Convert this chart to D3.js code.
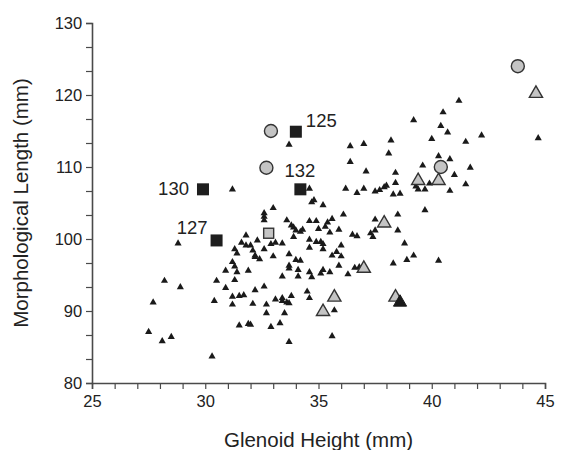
<!DOCTYPE html>
<html>
<head>
<meta charset="utf-8">
<script src="https://cdn.jsdelivr.net/npm/d3@7"></script>
<style>
  body { margin: 0; background: #fff; }
  text { font-family: "Liberation Sans", Arial, sans-serif; fill: #222; }
</style>
</head>
<body>
<div id="chart"></div>
<script>
// small black triangles: [glenoid height, morphological length]
var smallTri = [
  [33.7,113.1],[31.2,106.9],[34.6,107.0],[34.7,105.1],[34.8,105.4],[35.2,104.7],
  [41.2,119.2],[40.5,117.6],[39.2,116.5],[40.4,115.7],[40.7,114.8],[42.2,114.4],
  [44.7,114.0],[40.0,113.9],[41.5,113.5],[36.4,112.9],[37.0,113.2],[38.2,113.7],
  [38.1,111.9],[36.4,110.7],[39.6,110.2],[40.3,111.5],[40.8,111.1],[41.7,109.9],
  [37.1,109.4],[38.4,109.2],[41.0,108.9],[38.4,107.8],[39.9,107.7],[41.5,107.6],
  [36.2,107.0],[36.7,106.4],[37.0,107.0],[37.5,106.6],[37.7,106.8],[37.9,107.2],
  [38.0,107.4],[38.3,106.2],[38.6,106.3],[39.3,107.3],[39.4,106.9],[39.7,106.9],
  [40.8,106.7],[36.1,103.4],[39.7,104.0],[38.5,103.4],[37.5,102.7],[34.6,102.5],
  [34.9,102.5],[35.4,102.3],[35.3,101.7],[35.6,102.8],[35.0,101.4],[35.5,100.9],
  [35.9,101.3],[36.5,100.6],[36.7,100.4],[37.3,100.8],[37.4,100.3],[37.5,101.2],
  [38.5,101.2],[34.6,99.9],[34.9,99.6],[35.1,99.6],[35.2,99.3],[36.0,99.1],
  [34.6,98.8],[35.2,98.6],[35.8,98.2],[35.6,97.7],[36.0,97.6],[38.8,99.4],
  [39.2,97.7],[38.9,97.1],[40.3,97.0],[38.3,96.6],[35.9,96.3],[36.6,96.0],
  [36.8,96.1],[36.3,95.1],[34.6,95.4],[34.7,94.7],[35.1,95.2],[35.2,95.7],
  [35.5,95.4],[34.5,92.7],[34.6,91.8],[35.7,90.1],[35.6,86.5],[33.0,104.3],
  [32.6,103.6],[32.6,103.1],[32.6,102.6],[33.6,102.6],[33.8,101.9],[33.9,101.6],
  [34.0,101.2],[34.2,101.0],[34.3,101.3],[33.9,100.3],[31.8,100.5],[32.3,99.8],
  [32.9,99.3],[33.1,99.5],[33.4,99.4],[31.6,99.5],[31.8,99.1],[32.0,99.1],
  [31.3,98.6],[31.4,98.0],[32.1,98.4],[32.2,97.7],[32.2,97.5],[32.4,97.2],
  [32.6,98.6],[33.0,97.6],[28.8,99.4],[33.7,97.9],[34.0,97.1],[34.2,97.0],
  [33.7,96.3],[33.7,95.9],[34.1,95.7],[33.4,94.8],[34.1,94.8],[31.2,96.8],
  [31.3,96.2],[31.4,95.4],[30.9,95.6],[31.9,95.6],[31.3,94.3],[30.5,94.2],
  [30.9,93.2],[32.2,92.9],[32.6,93.4],[28.2,94.2],[28.9,93.3],[27.7,91.2],
  [30.4,91.4],[31.2,90.9],[31.2,92.0],[31.5,92.1],[31.7,92.2],[32.1,91.0],
  [32.7,90.9],[33.1,91.6],[33.4,91.8],[33.4,91.4],[33.6,91.2],[33.7,91.1],
  [33.8,92.1],[32.7,89.7],[33.5,89.7],[31.5,88.0],[31.9,88.2],[32.0,88.1],
  [32.9,87.8],[33.3,88.3],[33.7,85.7],[27.5,87.1],[28.1,85.8],[28.5,86.4],
  [30.3,83.7]
];
var grayCircles = [[32.9,115.0],[32.7,109.9],[40.4,110.0],[43.8,124.0]];
var grayTri = [[44.6,120.2],[39.4,108.1],[40.3,108.1],[37.9,102.2],[37.0,95.9],
  [35.7,91.9],[35.2,89.9],[38.4,91.9]];
var blackBigTri = [[38.6,91.2]];
var graySquares = [[32.8,100.8]];
var blackSquares = [[34.0,114.9],[29.9,106.9],[34.2,106.9],[30.5,99.8]];
var squareLabels = ["125","130","132","127"];
var xTicks = [25,30,35,40,45];
var yTicks = [80,90,100,110,120,130];

var width = 571, height = 450;
var margin = {left: 92, right: 26, top: 23, bottom: 67};

var svg = d3.select("#chart").append("svg")
  .attr("width", width).attr("height", height);

var x = d3.scaleLinear().domain([25,45]).range([margin.left, width - margin.right]);
var y = d3.scaleLinear().domain([80,130]).range([height - margin.bottom, margin.top]);

// axes, minor ticks every 1 mm on x and every third of 10 on y
var xAxis = svg.append("g")
  .attr("transform", "translate(0," + y(80) + ")")
  .call(d3.axisBottom(x).tickValues(d3.range(25,45.01,1)).tickSize(6)
    .tickFormat(function(d){ return xTicks.indexOf(d) >= 0 ? d : ""; }));
var yAxis = svg.append("g")
  .attr("transform", "translate(" + x(25) + ",0)")
  .call(d3.axisLeft(y).tickValues(d3.range(80,130.01,10/3)).tickSize(6)
    .tickFormat(function(d){
      var r = Math.round(d);
      return (Math.abs(d - r) < 0.01 && yTicks.indexOf(r) >= 0) ? r : "";
    }));
[xAxis, yAxis].forEach(function(a){
  a.select(".domain").attr("stroke", "#4a4a4a").attr("stroke-width", 1.6);
  a.selectAll(".tick line").attr("stroke", "#4a4a4a").attr("stroke-width", 1.2);
  a.selectAll("text").style("font-size", "16.5px").attr("fill", "#222");
});
xAxis.selectAll("text").attr("dy", "0.9em");
yAxis.selectAll("text").attr("dx", "-0.05em");

svg.append("text")
  .attr("x", x(35)).attr("y", 447)
  .attr("text-anchor", "middle")
  .style("font-size", "20.5px")
  .text("Glenoid Height (mm)");
svg.append("text")
  .attr("transform", "translate(28," + y(105) + ") rotate(-90)")
  .attr("text-anchor", "middle")
  .style("font-size", "20.5px")
  .text("Morphological Length (mm)");

// points
svg.append("g").selectAll("path").data(smallTri).enter().append("path")
  .attr("d", d3.symbol().type(d3.symbolTriangle).size(22))
  .attr("transform", function(d){ return "translate(" + x(d[0]) + "," + y(d[1]) + ")"; })
  .attr("fill", "#1a1a1a");

svg.append("g").selectAll("path").data(grayTri).enter().append("path")
  .attr("d", d3.symbol().type(d3.symbolTriangle).size(75))
  .attr("transform", function(d){ return "translate(" + x(d[0]) + "," + y(d[1]) + ")"; })
  .attr("fill", "#c4c4c4").attr("stroke", "#333").attr("stroke-width", 1.4);

svg.append("g").selectAll("path").data(blackBigTri).enter().append("path")
  .attr("d", d3.symbol().type(d3.symbolTriangle).size(75))
  .attr("transform", function(d){ return "translate(" + x(d[0]) + "," + y(d[1]) + ")"; })
  .attr("fill", "#1a1a1a").attr("stroke", "#1a1a1a").attr("stroke-width", 1);

svg.append("g").selectAll("circle").data(grayCircles).enter().append("circle")
  .attr("cx", function(d){ return x(d[0]); })
  .attr("cy", function(d){ return y(d[1]); })
  .attr("r", 6.5)
  .attr("fill", "#c4c4c4").attr("stroke", "#333").attr("stroke-width", 1.4);

svg.append("g").selectAll("rect").data(graySquares).enter().append("rect")
  .attr("x", function(d){ return x(d[0]) - 5; })
  .attr("y", function(d){ return y(d[1]) - 5; })
  .attr("width", 10).attr("height", 10)
  .attr("fill", "#c4c4c4").attr("stroke", "#333").attr("stroke-width", 1.4);

svg.append("g").selectAll("rect").data(blackSquares).enter().append("rect")
  .attr("x", function(d){ return x(d[0]) - 6; })
  .attr("y", function(d){ return y(d[1]) - 6; })
  .attr("width", 12).attr("height", 12)
  .attr("fill", "#1e1e1e");

// labels next to the black squares
var labelOffsets = [[10,-5,"start"],[-14,6,"end"],[-16,-12,"start"],[-9,-6,"end"]];
svg.append("g").selectAll("text").data(blackSquares).enter().append("text")
  .attr("x", function(d,i){ return x(d[0]) + labelOffsets[i][0]; })
  .attr("y", function(d,i){ return y(d[1]) + labelOffsets[i][1]; })
  .attr("text-anchor", function(d,i){ return labelOffsets[i][2]; })
  .style("font-size", "18.5px")
  .text(function(d,i){ return squareLabels[i]; });
</script>
</body>
</html>
